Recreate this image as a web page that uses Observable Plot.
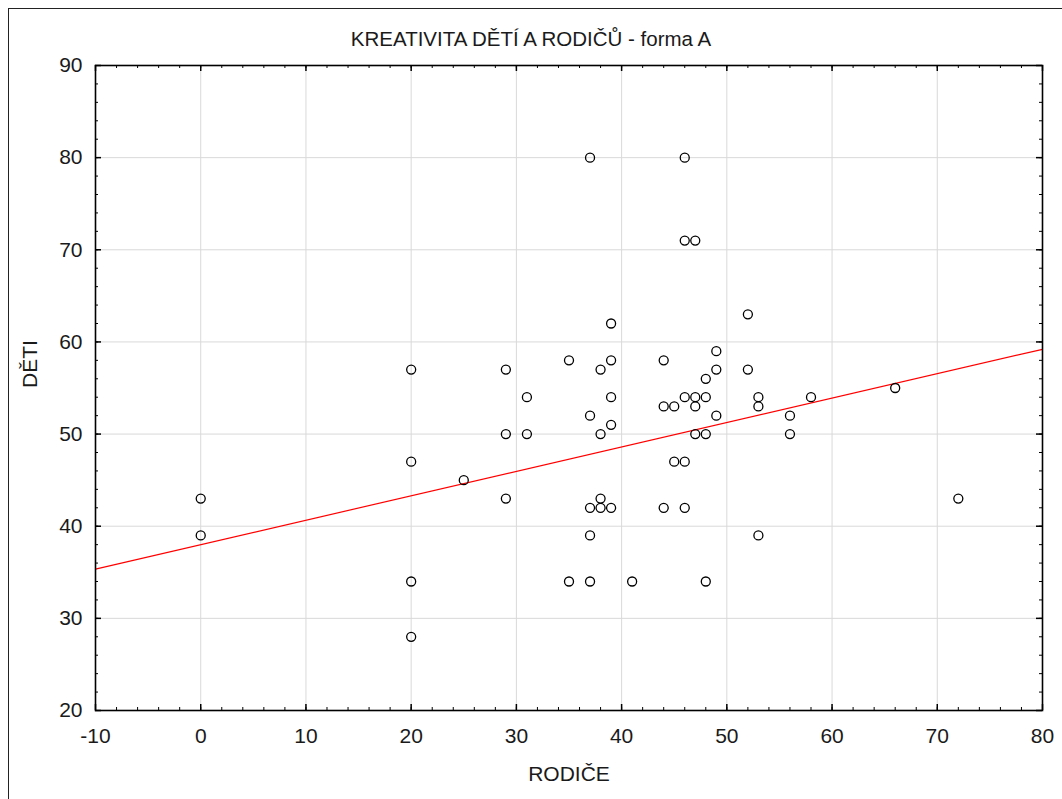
<!DOCTYPE html>
<html><head><meta charset="utf-8">
<script src="https://cdn.jsdelivr.net/npm/d3@7"></script>
<script src="https://cdn.jsdelivr.net/npm/@observablehq/plot@0.6"></script>
<style>
body{margin:0;background:#fff;}
#wrap{position:relative;width:1062px;height:799px;overflow:hidden;font-family:"Liberation Sans",Arial,sans-serif;}
#chart{position:absolute;left:0;top:0;}
#border{position:absolute;left:8px;top:8px;width:1100px;height:850px;border:1.5px solid #222;pointer-events:none;}
#title{position:absolute;left:0;width:1062px;top:27px;text-align:center;font-size:20.5px;line-height:24px;color:#1a1a1a;}
</style></head><body>
<div id="wrap"><div id="chart"></div><div id="border"></div><div id="title"></div></div>
<script>
const title = "KREATIVITA DĚTÍ A RODIČŮ - forma A";
const xLabel = "RODIČE";
const yLabel = "DĚTI";
const rodice = [0,0,20,20,20,20,25,29,29,29,31,31,35,35,37,37,37,37,37,38,38,38,38,39,39,39,39,39,41,44,44,44,45,45,46,46,46,46,46,47,47,47,47,48,48,48,48,49,49,49,52,52,53,53,53,56,56,58,66,72];
const deti   = [43,39,57,47,34,28,45,57,50,43,54,50,58,34,80,52,42,39,34,57,50,43,42,62,58,54,51,42,34,58,53,42,53,47,80,71,54,47,42,71,54,53,50,56,54,50,34,59,57,52,63,57,54,53,39,52,50,54,55,43];
const xTicks = [-10,0,10,20,30,40,50,60,70,80];
const yTicks = [20,30,40,50,60,70,80,90];
const xMinor = d3.range(-10, 80.1, 2);
const yMinor = d3.range(20, 90.1, 2);
// fitted line (DĚTI = a + b·RODIČE)
const fitIntercept = 38.0;
const fitSlope = 0.265;

document.getElementById("title").textContent = title;

const data = rodice.map((x, i) => ({x, y: deti[i]}));
const xDomain = [xTicks[0], xTicks[xTicks.length - 1]];
const yDomain = [yTicks[0], yTicks[yTicks.length - 1]];
const fitLine = xDomain.map(x => ({x, y: fitIntercept + fitSlope * x}));

const W = 1062, H = 799, mT = 65, mB = 89, mL = 95, mR = 20;
const fH = H - mT - mB, fW = W - mL - mR;
const font = "Liberation Sans, Arial, sans-serif";

const chart = Plot.plot({
  width: W, height: H, marginTop: mT, marginBottom: mB, marginLeft: mL, marginRight: mR,
  style: {background: "transparent", fontFamily: font, color: "#1a1a1a"},
  x: {domain: xDomain},
  y: {domain: yDomain},
  marks: [
    Plot.gridX(xTicks, {stroke: "#d9d9d9", strokeOpacity: 1, strokeWidth: 1}),
    Plot.gridY(yTicks, {stroke: "#d9d9d9", strokeOpacity: 1, strokeWidth: 1}),
    Plot.line(fitLine, {x: "x", y: "y", stroke: "#ff0000", strokeWidth: 1.2}),
    Plot.dot(data, {x: "x", y: "y", r: 4.5, stroke: "#000", strokeWidth: 1.3, fill: "none"}),
    Plot.tickX(xMinor, {x: d => d, insetTop: fH - 3, stroke: "#000"}),
    Plot.tickX(xMinor, {x: d => d, insetBottom: fH - 3, stroke: "#000"}),
    Plot.tickX(xTicks, {x: d => d, insetTop: fH - 6, stroke: "#000", strokeWidth: 1.5}),
    Plot.tickX(xTicks, {x: d => d, insetBottom: fH - 6, stroke: "#000", strokeWidth: 1.5}),
    Plot.tickY(yMinor, {y: d => d, insetRight: fW - 3, stroke: "#000"}),
    Plot.tickY(yMinor, {y: d => d, insetLeft: fW - 3, stroke: "#000"}),
    Plot.tickY(yTicks, {y: d => d, insetRight: fW - 6, stroke: "#000", strokeWidth: 1.5}),
    Plot.tickY(yTicks, {y: d => d, insetLeft: fW - 6, stroke: "#000", strokeWidth: 1.5}),
    Plot.frame({stroke: "#000", strokeWidth: 1.6}),
    Plot.axisX(xTicks, {tickSize: 0, tickPadding: 18, fontSize: 21, label: null, tickFormat: d => String(d)}),
    Plot.axisY(yTicks, {tickSize: 0, tickPadding: 13, fontSize: 21, label: null, tickFormat: d => String(d)}),
    Plot.text([xLabel], {text: d => d, frameAnchor: "bottom", dy: 70, fontSize: 21}),
    Plot.text([yLabel], {text: d => d, frameAnchor: "left", dx: -65, rotate: -90, fontSize: 21})
  ]
});
document.getElementById("chart").appendChild(chart);
</script>
</body></html>
